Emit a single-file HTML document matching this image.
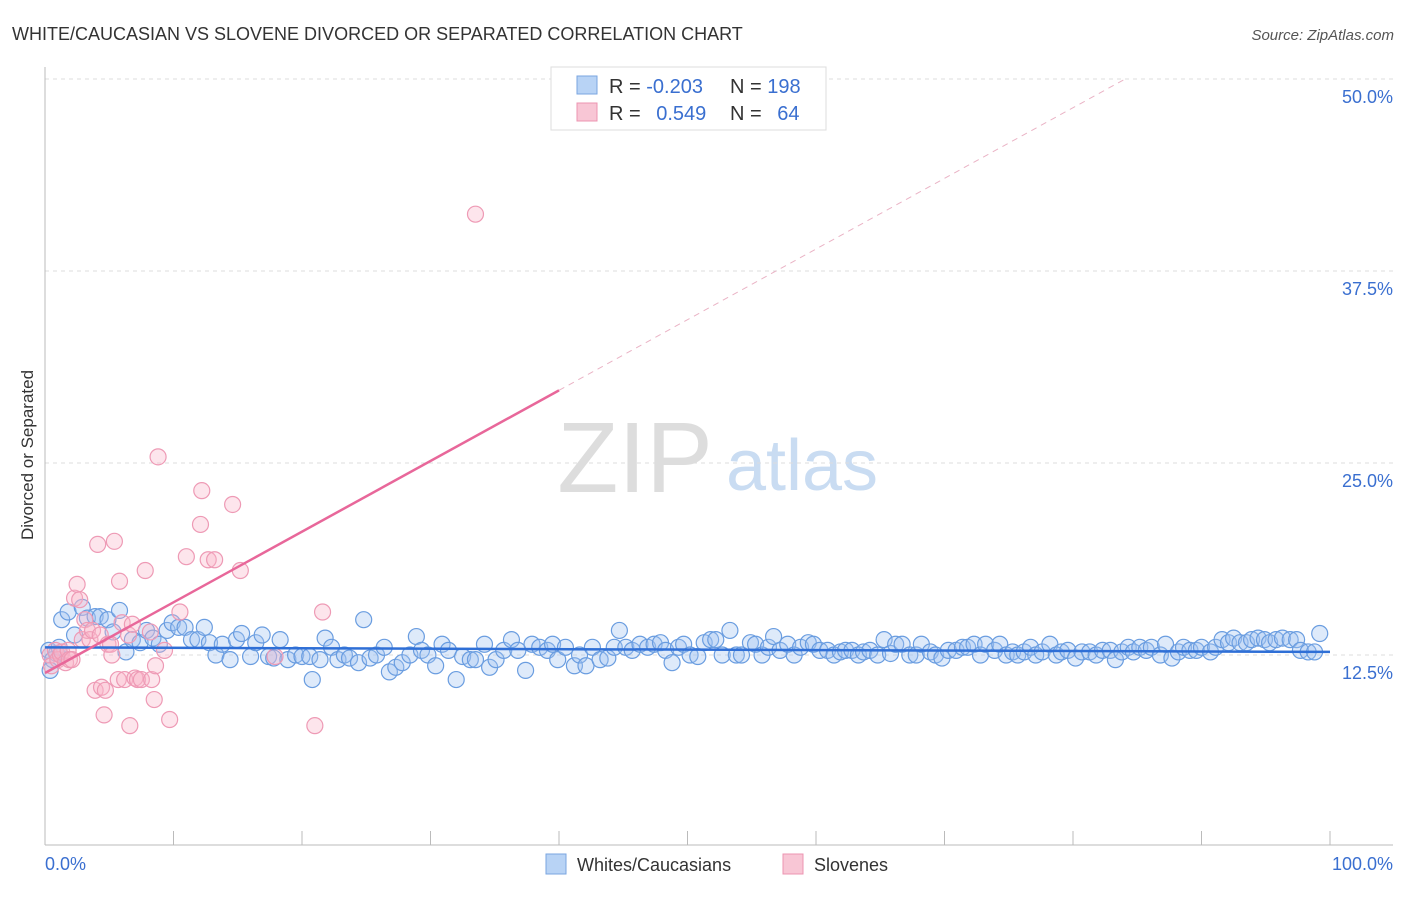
<!DOCTYPE html>
<html><head><meta charset="utf-8">
<style>
body{margin:0;background:#fff;font-family:"Liberation Sans",sans-serif;}
svg text{font-family:"Liberation Sans",sans-serif;}
</style></head>
<body>
<svg id="chart" width="1406" height="892" xmlns="http://www.w3.org/2000/svg">
<text x="12" y="40" font-size="18" fill="#333">WHITE/CAUCASIAN VS SLOVENE DIVORCED OR SEPARATED CORRELATION CHART</text>
<text x="1394" y="40" font-size="15" fill="#555" text-anchor="end" font-style="italic">Source: ZipAtlas.com</text>
<g>
<text x="635" y="492" font-size="100" fill="#ddd" font-family="Liberation Serif" text-anchor="middle">ZIP</text>
<text x="802" y="490" font-size="72" fill="#c9dcf2" text-anchor="middle">atlas</text>
</g>
<g id="grid"></g>
<g id="axes"></g>
<g id="marks"></g>
<text transform="translate(33,455) rotate(-90)" font-size="17" fill="#333" text-anchor="middle">Divorced or Separated</text>
<g>
<rect x="551" y="67" width="275" height="63" fill="#fff" stroke="#ddd"/>
<rect x="577" y="76" width="20" height="18" fill="#b8d3f5" stroke="#7aa6e0"/>
<text x="609" y="93" font-size="20" fill="#333">R = <tspan fill="#3a6fd0">-0.203</tspan></text>
<text x="730" y="93" font-size="20" fill="#333">N = <tspan fill="#3a6fd0">198</tspan></text>
<rect x="577" y="103" width="20" height="18" fill="#f8c6d5" stroke="#ec94b1"/>
<text x="609" y="120" font-size="20" fill="#333">R = <tspan fill="#3a6fd0" dx="10">0.549</tspan></text>
<text x="730" y="120" font-size="20" fill="#333">N = <tspan fill="#3a6fd0" dx="10">64</tspan></text>
</g>
<g>
<rect x="546" y="854" width="20" height="20" fill="#b8d3f5" stroke="#7aa6e0"/>
<text x="577" y="871" font-size="18" fill="#333">Whites/Caucasians</text>
<rect x="783" y="854" width="20" height="20" fill="#f8c6d5" stroke="#ec94b1"/>
<text x="814" y="871" font-size="18" fill="#333">Slovenes</text>
</g>
</svg>
<script>
const yTicks=[12.5,25,37.5,50];
const yTickLabels=["12.5%","25.0%","37.5%","50.0%"];
const xTicks=[0,10,20,30,40,50,60,70,80,90,100];
const xEndLabels=["0.0%","100.0%"];
const blueX=[0.3,0.6,0.9,1.1,0.4,1.3,1.8,2.3,2.9,3.3,3.9,4.3,4.9,5.3,5.8,6.3,6.8,7.4,7.9,8.4,8.9,9.5,9.9,10.4,10.9,11.4,11.9,12.4,12.8,13.3,13.8,14.4,14.9,15.3,16.0,16.4,16.9,17.4,17.8,18.3,18.9,19.5,20.0,20.6,20.8,21.4,21.8,22.3,22.8,23.3,23.7,24.4,24.8,25.3,25.8,26.4,26.8,27.3,27.8,28.4,28.9,29.3,29.8,30.4,30.9,31.4,32.0,32.5,33.1,33.5,34.2,34.6,35.1,35.7,36.3,36.8,37.4,37.9,38.5,39.1,39.5,39.9,40.5,41.2,41.6,42.1,42.6,43.2,43.8,44.3,44.7,45.2,45.7,46.3,46.9,47.4,47.9,48.3,48.8,49.3,49.7,50.2,50.8,51.3,51.8,52.2,52.7,53.3,53.8,54.2,54.9,55.3,55.8,56.3,56.7,57.2,57.8,58.3,58.8,59.4,59.8,60.3,60.9,61.4,61.9,62.3,62.8,63.3,63.7,64.2,64.8,65.3,65.8,66.2,66.7,67.3,67.8,68.2,68.9,69.3,69.8,70.3,70.9,71.4,71.8,72.3,72.8,73.2,73.9,74.3,74.8,75.3,75.7,76.2,76.7,77.1,77.6,78.2,78.7,79.1,79.6,80.2,80.7,81.3,81.8,82.3,82.9,83.3,83.8,84.3,84.7,85.2,85.7,86.1,86.8,87.2,87.7,88.2,88.6,89.1,89.6,90.0,90.7,91.1,91.6,92.1,92.5,93.0,93.5,93.9,94.4,94.9,95.3,95.8,96.3,96.9,97.4,97.7,98.3,98.8,99.2];
const blueY=[12.8,12.2,12.6,13.0,11.5,14.8,15.3,13.8,15.6,14.9,15.0,15.0,14.8,14.0,15.4,12.7,13.5,13.3,14.1,13.6,13.2,14.1,14.6,14.3,14.3,13.5,13.5,14.3,13.3,12.5,13.2,12.2,13.5,13.9,12.4,13.3,13.8,12.4,12.3,13.5,12.2,12.5,12.4,12.4,10.9,12.2,13.6,13.0,12.2,12.5,12.3,12.0,14.8,12.3,12.5,13.0,11.4,11.7,12.0,12.5,13.7,12.8,12.5,11.8,13.2,12.8,10.9,12.4,12.2,12.2,13.2,11.7,12.2,12.8,13.5,12.8,11.5,13.2,13.0,12.8,13.2,12.2,13.0,11.8,12.5,11.8,13.0,12.2,12.3,13.0,14.1,13.0,12.8,13.2,13.0,13.2,13.3,12.8,12.0,13.0,13.2,12.5,12.4,13.3,13.5,13.5,12.5,14.1,12.5,12.5,13.3,13.2,12.5,13.0,13.7,12.8,13.2,12.5,13.0,13.3,13.2,12.8,12.8,12.5,12.7,12.8,12.8,12.5,12.7,12.8,12.5,13.5,12.6,13.2,13.2,12.5,12.5,13.2,12.7,12.5,12.3,12.8,12.8,13.0,13.0,13.2,12.5,13.2,12.8,13.2,12.5,12.7,12.5,12.7,13.0,12.5,12.7,13.2,12.5,12.7,12.8,12.3,12.7,12.7,12.5,12.8,12.8,12.2,12.7,13.0,12.7,13.0,12.8,13.0,12.5,13.2,12.3,12.7,13.0,12.8,12.8,13.0,12.7,13.0,13.5,13.3,13.6,13.3,13.3,13.5,13.6,13.5,13.3,13.5,13.6,13.5,13.5,12.8,12.7,12.7,13.9];
const pinkX=[0.4,0.5,0.8,1.0,1.2,1.3,1.6,1.8,1.9,2.1,2.3,2.5,2.7,2.9,3.1,3.3,3.5,3.7,3.9,4.1,4.3,4.4,4.6,4.7,4.9,5.1,5.2,5.4,5.7,5.8,6.0,6.2,6.5,6.6,6.8,7.0,7.2,7.5,7.8,8.2,8.3,8.5,8.6,8.8,9.3,9.7,10.5,11.0,12.1,12.2,12.7,13.2,14.6,15.2,17.9,21.0,21.6,33.5];
const pinkY=[12.5,11.8,12.8,12.2,12.5,12.7,12.0,12.8,12.2,12.2,16.2,17.1,16.1,13.5,14.8,14.1,13.5,14.1,10.2,19.7,13.8,10.4,8.6,10.2,13.2,13.2,12.5,19.9,10.9,17.3,14.6,10.9,13.8,7.9,14.5,11.0,10.9,10.9,18.0,14.0,10.9,9.6,11.8,25.4,12.8,8.3,15.3,18.9,21.0,23.2,18.7,18.7,22.3,18.0,12.4,7.9,15.3,41.2];
const blueTrend=[13.0,12.7];
const pinkTrend=[11.33,0.46];
const pinkSolidEnd=40;

const X0=45,X1=1330,Y0=847,PXY=15.36;
const xs=v=>X0+(X1-X0)*v/100;
const ys=v=>Y0-v*PXY;
const NS="http://www.w3.org/2000/svg";
function mk(tag,attrs,parent){const e=document.createElementNS(NS,tag);for(const k in attrs)e.setAttribute(k,attrs[k]);document.getElementById(parent).appendChild(e);return e;}

yTicks.forEach((t,i)=>{
  const g=mk('line',{x1:X0,x2:1393,y1:ys(t),y2:ys(t),stroke:'#ddd','stroke-dasharray':'4,4'},'grid');
  
  
  const l=mk('text',{x:1393,y:ys(t)+24,'font-size':18,fill:'#3a6fd0','text-anchor':'end'},'axes');
  l.textContent=yTickLabels[i];
  
  
});
const ya=mk('line',{x1:X0,x2:X0,y1:67,y2:845,stroke:'#bbb'},'axes');


const xa=mk('line',{x1:X0,x2:1393,y1:845,y2:845,stroke:'#bbb'},'axes');


xTicks.forEach(t=>{
  const k=mk('line',{x1:xs(t),x2:xs(t),y1:831,y2:845,stroke:'#bbb'},'axes');
  
  
});
[[0,'start',X0],[1,'end',1393]].forEach(([i,a,x])=>{
  const l=mk('text',{x:x,y:870,'font-size':18,fill:'#3a6fd0','text-anchor':a},'axes');
  l.textContent=xEndLabels[i];
  
  
});
blueX.forEach((v,i)=>{
  const c=mk('circle',{cx:xs(v),cy:ys(blueY[i]),r:8,fill:'rgba(160,195,240,0.35)',stroke:'#6a9de0','stroke-width':1.2},'marks');
  
  
});
pinkX.forEach((v,i)=>{
  const c=mk('circle',{cx:xs(v),cy:ys(pinkY[i]),r:8,fill:'rgba(248,180,200,0.35)',stroke:'#ee9ab5','stroke-width':1.2},'marks');
  
  
});
const bt=mk('line',{x1:xs(0),y1:ys(blueTrend[0]),x2:xs(100),y2:ys(blueTrend[1]),stroke:'#2f6fd6','stroke-width':2.5},'marks');


const pEnd=(50-pinkTrend[0])/pinkTrend[1];
const pd=mk('line',{x1:xs(pinkSolidEnd),y1:ys(pinkTrend[0]+pinkTrend[1]*pinkSolidEnd),x2:xs(pEnd),y2:ys(50),stroke:'#eab3c5','stroke-width':1,'stroke-dasharray':'6,5'},'marks');


const ps=mk('line',{x1:xs(0),y1:ys(pinkTrend[0]),x2:xs(pinkSolidEnd),y2:ys(pinkTrend[0]+pinkTrend[1]*pinkSolidEnd),stroke:'#e8679a','stroke-width':2.5},'marks');


</script>
</body></html>
